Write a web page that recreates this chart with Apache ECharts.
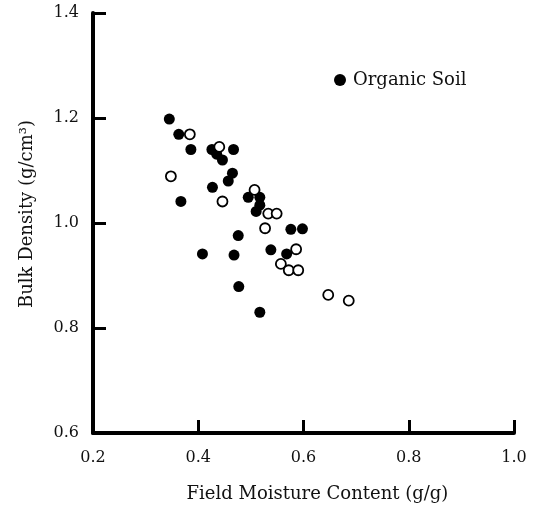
<!DOCTYPE html>
<html><head><meta charset="utf-8">
<script src="https://cdn.jsdelivr.net/npm/echarts@6/dist/echarts.min.js"></script>
<style>html,body{margin:0;padding:0;background:#fff}#c{width:539px;height:508px}</style>
</head><body><div id="c"></div>
<script>
// Filled circles: Organic Soil [moisture, density]
const organicX = [0.345,0.363,0.386,0.426,0.435,0.446,0.467,0.465,0.457,0.427,0.367,0.495,0.517,0.517,0.510,0.576,0.598,0.476,0.408,0.468,0.538,0.568,0.477,0.517];
const organicY = [1.198,1.169,1.140,1.140,1.131,1.120,1.140,1.095,1.080,1.068,1.041,1.049,1.049,1.034,1.022,0.988,0.989,0.976,0.941,0.939,0.949,0.941,0.879,0.830];
// Open circles
const otherX = [0.384,0.440,0.348,0.446,0.507,0.533,0.549,0.527,0.586,0.557,0.572,0.590,0.647,0.686];
const otherY = [1.169,1.145,1.089,1.041,1.063,1.018,1.018,0.990,0.950,0.922,0.910,0.910,0.863,0.852];
const xTicks = [0.2,0.4,0.6,0.8,1.0];
const yTicks = [0.6,0.8,1.0,1.2,1.4];

const zip = (a,b)=>a.map((v,i)=>[v,b[i]]);
const font = 'DejaVu Serif';
const chart = echarts.init(document.getElementById('c'));
chart.setOption({
  animation:false,
  backgroundColor:'#fff',
  textStyle:{fontFamily:font,color:'#000'},
  grid:{left:93,right:25,top:13,bottom:75,outerBoundsMode:'none',containLabel:false},
  legend:{data:['Organic Soil'],left:334,top:71,padding:0,icon:'circle',itemWidth:12,itemHeight:12,itemGap:0,
    textStyle:{fontFamily:font,fontSize:18,color:'#111',padding:[0,0,0,2]}},
  xAxis:{type:'value',min:xTicks[0],max:xTicks[xTicks.length-1],interval:0.2,splitLine:{show:false},
    name:'Field Moisture Content (g/g)',nameLocation:'middle',nameGap:52,
    nameTextStyle:{fontFamily:font,fontSize:18,color:'#111',padding:[0,0,0,28]},
    axisLine:{lineStyle:{color:'#000',width:4}},
    axisTick:{inside:true,length:13,lineStyle:{color:'#000',width:3}},
    axisLabel:{margin:17,fontFamily:font,fontSize:16,color:'#111',formatter:v=>v.toFixed(1)}},
  yAxis:{type:'value',min:yTicks[0],max:yTicks[yTicks.length-1],interval:0.2,splitLine:{show:false},
    name:'Bulk Density (g/cm³)',nameLocation:'middle',nameGap:57,nameRotate:90,
    nameTextStyle:{fontFamily:font,fontSize:18,color:'#111',padding:[0,0,0,18]},
    axisLine:{lineStyle:{color:'#000',width:4}},
    axisTick:{inside:true,length:13,lineStyle:{color:'#000',width:3}},
    axisLabel:{margin:14,fontFamily:font,fontSize:16,color:'#111',formatter:v=>v.toFixed(1)}},
  series:[
    {name:'Organic Soil',type:'scatter',symbol:'circle',symbolSize:11,data:zip(organicX,organicY),
      itemStyle:{color:'#000',opacity:1}},
    {name:'Other',type:'scatter',symbol:'circle',symbolSize:10,data:zip(otherX,otherY),
      itemStyle:{color:'#fff',borderColor:'#000',borderWidth:1.8,opacity:1}}
  ]
});
</script></body></html>
